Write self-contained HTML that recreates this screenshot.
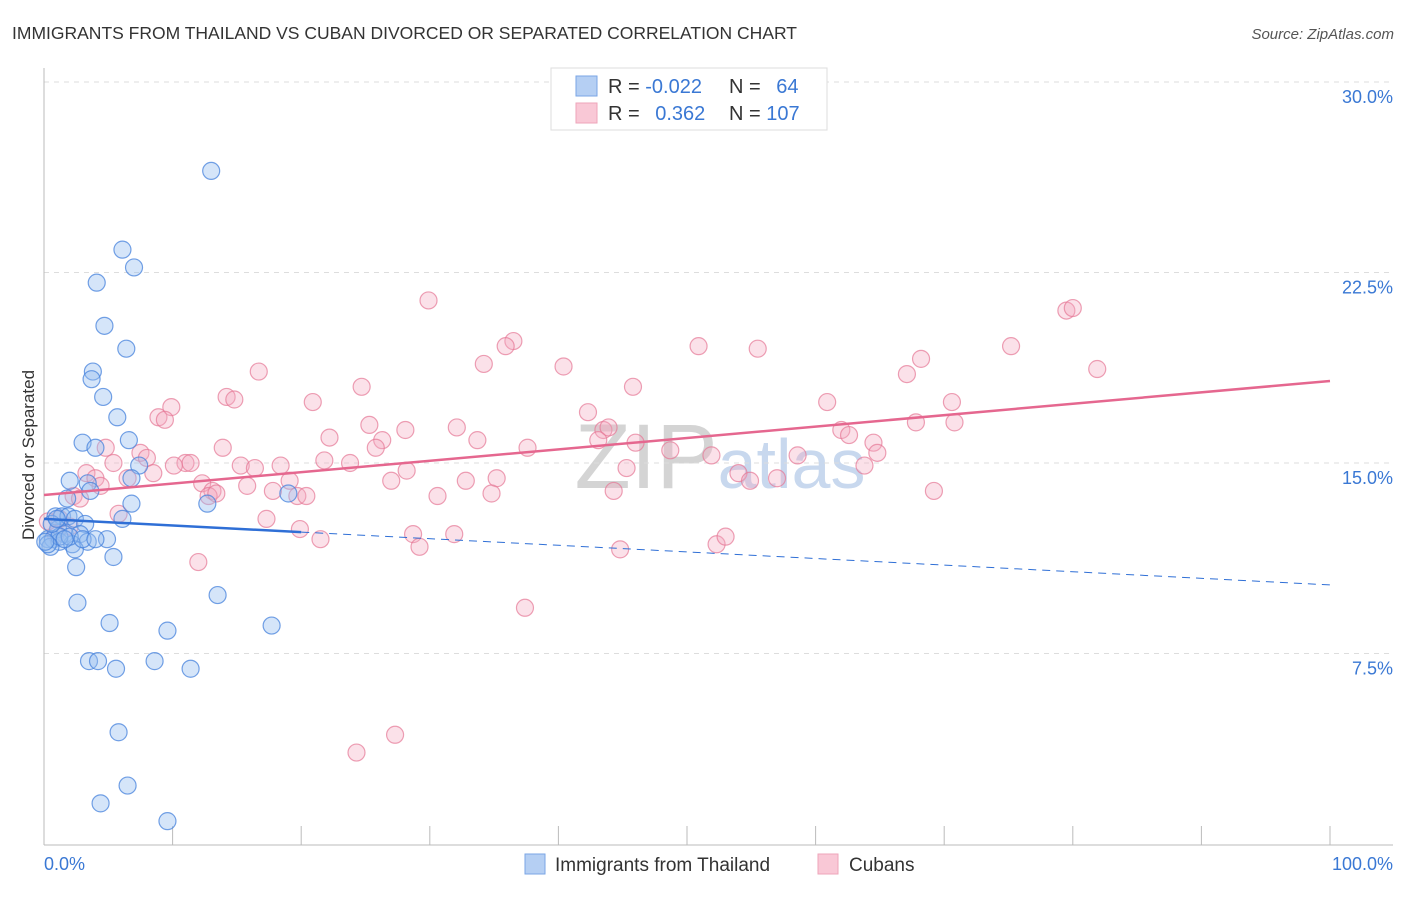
<!DOCTYPE html>
<html><head><meta charset="utf-8"><style>
body{margin:0;background:#fff;font-family:"Liberation Sans",sans-serif}
svg text{font-family:"Liberation Sans",sans-serif}
</style></head><body>
<svg width="1406" height="892" viewBox="0 0 1406 892" id="chart">
<text x="12" y="39" font-size="17.5" fill="#333">IMMIGRANTS FROM THAILAND VS CUBAN DIVORCED OR SEPARATED CORRELATION CHART</text>
<text x="1394" y="39" font-size="15" fill="#555" font-style="italic" text-anchor="end">Source: ZipAtlas.com</text>
<text x="34" y="455" font-size="17" fill="#333" text-anchor="middle" transform="rotate(-90 34 455)">Divorced or Separated</text>
<text x="720" y="488" font-size="92" fill="#d8d8d8" text-anchor="middle" font-family="Liberation Serif"><tspan fill="#d4d4d4">ZIP</tspan><tspan fill="#c8d8ee" font-family="Liberation Sans" font-size="70">atlas</tspan></text>
<g id="grid"></g><g id="axes"></g><g id="pts"></g><g id="trend"></g>
<g>
<rect x="551" y="68" width="276" height="62" fill="#fff" stroke="#ddd"/>
<rect x="576" y="76" width="21" height="20" fill="#b5cff3" stroke="#7aa6e6"/>
<rect x="576" y="103" width="21" height="20" fill="#f9c8d6" stroke="#eea5ba"/>
<text x="608" y="93" font-size="20" fill="#333">R = <tspan fill="#3a78d4">-0.022</tspan></text>
<text x="729" y="93" font-size="20" fill="#333">N = <tspan fill="#3a78d4" dx="10">64</tspan></text>
<text x="608" y="120" font-size="20" fill="#333">R = <tspan fill="#3a78d4" dx="10">0.362</tspan></text>
<text x="729" y="120" font-size="20" fill="#333">N = <tspan fill="#3a78d4">107</tspan></text>
</g>
<g>
<rect x="525" y="854" width="20" height="20" fill="#b5cff3" stroke="#7aa6e6"/>
<text x="555" y="871" font-size="19" fill="#333">Immigrants from Thailand</text>
<rect x="818" y="854" width="20" height="20" fill="#f9c8d6" stroke="#eea5ba"/>
<text x="849" y="871" font-size="19" fill="#333">Cubans</text>
</g>
</svg>
<script>
const yTicks=[7.5,15,22.5,30];
const yTickLabels=["7.5%","15.0%","22.5%","30.0%"];
const xTicks=[0,10,20,30,40,50,60,70,80,90,100];
const thaiX=[13.0,6.1,7.0,4.1,4.7,6.4,3.8,3.7,4.6,5.7,3.0,6.6,4.0,7.4,6.8,2.0,3.4,3.6,1.8,6.8,12.7,19.0,6.1,0.9,1.4,1.9,2.4,3.2,1.1,1.6,2.8,0.3,0.7,1.2,2.2,3.4,4.9,0.5,2.4,5.4,2.5,2.6,5.1,9.6,13.5,17.7,3.5,4.2,5.6,8.6,11.4,5.8,6.5,4.4,9.6,1.2,2.0,3.0,0.3,0.6,1.6,4.0,1.0,0.1];
const thaiY=[26.5,23.4,22.7,22.1,20.4,19.5,18.6,18.3,17.6,16.8,15.8,15.9,15.6,14.9,14.4,14.3,14.2,13.9,13.6,13.4,13.4,13.8,12.8,12.9,12.9,12.9,12.8,12.6,12.4,12.2,12.2,12.0,12.0,11.9,11.8,11.9,12.0,11.7,11.6,11.3,10.9,9.5,8.7,8.4,9.8,8.6,7.2,7.2,6.9,7.2,6.9,4.4,2.3,1.6,0.9,12.1,12.1,12.0,11.8,12.6,12.0,12.0,12.8,11.9];
const cubaX=[29.9,79.5,80.0,81.9,75.2,68.2,67.1,50.9,55.5,36.5,35.9,34.2,40.4,24.7,45.8,16.7,14.2,14.8,20.9,60.9,70.6,9.9,8.9,9.4,42.3,25.3,28.1,32.1,43.5,43.9,67.8,70.8,62.0,62.6,22.2,26.3,33.7,46.0,43.1,64.5,13.9,4.8,7.5,8.0,64.8,48.7,37.6,25.8,21.8,51.9,58.6,11.0,11.4,10.1,5.4,15.3,16.4,18.4,23.8,28.2,45.3,63.8,3.3,4.0,8.5,6.5,54.0,57.0,54.9,12.3,19.1,27.0,32.8,35.2,4.4,2.3,2.8,13.1,12.8,13.4,15.8,17.8,19.7,20.4,30.6,34.8,44.3,69.2,5.8,17.3,19.9,21.5,28.7,29.2,31.9,44.8,52.3,53.0,12.0,37.4,24.3,27.3,2.0,1.2,0.9,0.3];
const cubaY=[21.4,21.0,21.1,18.7,19.6,19.1,18.5,19.6,19.5,19.8,19.6,18.9,18.8,18.0,18.0,18.6,17.6,17.5,17.4,17.4,17.4,17.2,16.8,16.7,17.0,16.5,16.3,16.4,16.3,16.4,16.6,16.6,16.3,16.1,16.0,15.9,15.9,15.8,15.9,15.8,15.6,15.6,15.4,15.2,15.4,15.5,15.6,15.6,15.1,15.3,15.3,15.0,15.0,14.9,15.0,14.9,14.8,14.9,15.0,14.7,14.8,14.9,14.6,14.4,14.6,14.4,14.6,14.4,14.3,14.2,14.3,14.3,14.3,14.4,14.1,13.7,13.6,13.9,13.7,13.8,14.1,13.9,13.7,13.7,13.7,13.8,13.9,13.9,13.0,12.8,12.4,12.0,12.2,11.7,12.2,11.6,11.8,12.1,11.1,9.3,3.6,4.3,12.5,12.8,12.2,12.7];
const thaiTrend=[12.8,10.2];
const cubaTrend=[13.74,18.23];
const X0=44,X1=1330,Y0=844,PXPERPCT=190.5/7.5;
const sx=v=>X0+(X1-X0)*v/100;
const sy=v=>Y0-v*PXPERPCT;
const NS="http://www.w3.org/2000/svg";
function mk(t,a,p){const e=document.createElementNS(NS,t);for(const k in a)e.setAttribute(k,a[k]);document.getElementById(p).appendChild(e);return e;}
yTicks.forEach((v,i)=>{
 const l=mk('line',{x1:X0,x2:1393,y1:sy(v),y2:sy(v),stroke:'#ddd','stroke-dasharray':'5,5'},'grid');
 
 
 const t=mk('text',{x:1393,y:sy(v)+21,'font-size':18,fill:'#3a78d4','text-anchor':'end'},'grid');
 t.textContent=yTickLabels[i];
 
 
});
const ax=mk('line',{x1:X0,x2:X0,y1:68,y2:845,stroke:'#bbb'},'axes');


const bx=mk('line',{x1:X0,x2:1393,y1:845,y2:845,stroke:'#bbb'},'axes');


xTicks.forEach(v=>{
 const t=mk('line',{x1:sx(v),x2:sx(v),y1:826,y2:845,stroke:'#bbb'},'axes');
 
 
});
const xl0=mk('text',{x:44,y:870,'font-size':18,fill:'#3a78d4'},'axes');xl0.textContent='0.0%';


const xl1=mk('text',{x:1393,y:870,'font-size':18,fill:'#3a78d4','text-anchor':'end'},'axes');xl1.textContent='100.0%';


cubaX.forEach((x,i)=>{
 const c=mk('circle',{cx:sx(x),cy:sy(cubaY[i]),r:8.5,fill:'rgba(244,170,192,0.35)',stroke:'rgba(230,120,150,0.7)','stroke-width':1.2},'pts');
 
 
});
thaiX.forEach((x,i)=>{
 const c=mk('circle',{cx:sx(x),cy:sy(thaiY[i]),r:8.5,fill:'rgba(150,190,240,0.4)',stroke:'rgba(70,130,220,0.75)','stroke-width':1.2},'pts');
 
 
});
const ty=x=>thaiTrend[0]+(thaiTrend[1]-thaiTrend[0])*x/100;
const t1=mk('line',{x1:sx(0),y1:sy(ty(0)),x2:sx(20),y2:sy(ty(20)),stroke:'#2f6fd6','stroke-width':2.5},'trend');


const t2=mk('line',{x1:sx(20),y1:sy(ty(20)),x2:sx(100),y2:sy(ty(100)),stroke:'#2f6fd6','stroke-width':1,'stroke-dasharray':'8,6'},'trend');


const t3=mk('line',{x1:sx(0),y1:sy(cubaTrend[0]),x2:sx(100),y2:sy(cubaTrend[1]),stroke:'#e5678f','stroke-width':2.5},'trend');


</script>
</body></html>
